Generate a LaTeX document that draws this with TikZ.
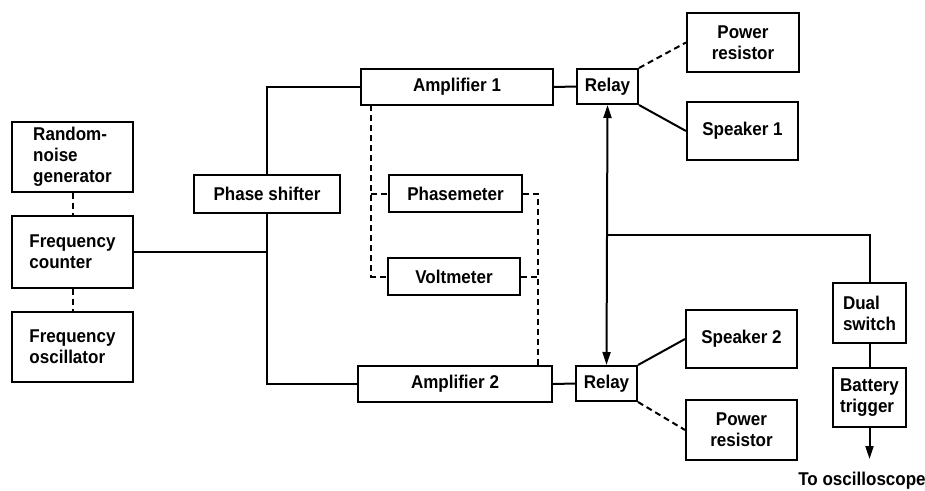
\documentclass[tikz,border=0pt]{standalone}
\usepackage{fontspec}
\setmainfont{Liberation Sans}[FakeStretch=0.92]
\usetikzlibrary{arrows.meta}
\begin{document}
\begin{tikzpicture}[x=1pt,y=-1pt,
  box/.style={draw,line width=2pt,inner sep=0pt,font=\fontsize{18.5}{21}\selectfont\bfseries},
  conn/.style={line width=2pt},
  dconn/.style={line width=2pt,dash pattern=on 6pt off 4pt},
  tip/.style={-{Triangle[length=13pt,width=8pt]}}]
\useasboundingbox (0,0) rectangle (925,490);
\node[box,minimum width=121pt,minimum height=70pt,align=left] (rng) at (72.5,157) {Random-\\noise\\generator};
\node[box,minimum width=121pt,minimum height=72pt,align=left] (fc) at (72.5,252) {Frequency\\counter};
\node[box,minimum width=121pt,minimum height=70pt,align=left] (fo) at (72.5,347) {Frequency\\oscillator};
\node[box,minimum width=146pt,minimum height=38pt] (ps) at (267,194) {Phase shifter};
\node[box,minimum width=192pt,minimum height=36pt] (a1) at (457,87) {Amplifier 1};
\node[box,minimum width=194pt,minimum height=36pt] (a2) at (455,384) {Amplifier 2};
\node[box,minimum width=61pt,minimum height=35pt] (r1) at (607.5,86.5) {Relay};
\node[box,minimum width=61pt,minimum height=35pt] (r2) at (606.5,383.5) {Relay};
\node[box,minimum width=133pt,minimum height=37pt] (pm) at (455.5,193.5) {Phasemeter};
\node[box,minimum width=132pt,minimum height=37pt] (vm) at (454,276.5) {Voltmeter};
\node[box,minimum width=112pt,minimum height=59pt,align=center] (pr1) at (743,42.5) {Power\\resistor};
\node[box,minimum width=111pt,minimum height=58pt] (sp1) at (742.5,131) {Speaker 1};
\node[box,minimum width=111pt,minimum height=58pt] (sp2) at (741.5,339) {Speaker 2};
\node[box,minimum width=111pt,minimum height=60pt,align=center] (pr2) at (741.5,430) {Power\\resistor};
\node[box,minimum width=73pt,minimum height=60pt,align=left] (ds) at (869.5,313) {Dual\\switch};
\node[box,minimum width=73pt,minimum height=59pt,align=left] (bt) at (869.5,397.5) {Battery\\trigger};
\node[font=\fontsize{18.5}{21}\selectfont\bfseries] (osc) at (862,481) {To oscilloscope};
\coordinate (oscend) at (869.5,459);
\coordinate (dl) at (371,105);
\coordinate (dr) at (538,366);
\coordinate (tap) at (607,235);

\draw[dconn] (rng.south) -- (fc.north);
\draw[dconn] (fc.south) -- (fo.north);
\draw[conn] (fc.east) -- (fc.east -| ps.south);
\draw[conn] (ps.north) |- (a1.west);
\draw[conn] (ps.south) |- (a2.west);
\draw[conn] (a1.east) -- (r1.west);
\draw[conn] (a2.east) -- (r2.west);
\draw[dconn] (dl) |- (vm.west);
\draw[dconn] (dl |- pm.west) -- (pm.west);
\draw[dconn] (pm.east) -| (dr);
\draw[dconn] (vm.east) -- (vm.east -| dr);
\draw[conn,{Triangle[length=13pt,width=8pt]}-{Triangle[length=13pt,width=8pt]}] (r1.south) -- (r2.north);
\draw[conn] (tap) -| (ds.north);
\draw[conn] (ds.south) -- (bt.north);
\draw[conn,tip] (bt.south) -- (oscend);
\draw[dconn] (r1.north east) -- (pr1.west);
\draw[conn] (r1.south east) -- (sp1.west);
\draw[conn] (r2.north east) -- (sp2.west);
\draw[dconn] (r2.south east) -- (pr2.west);
\end{tikzpicture}
\end{document}
